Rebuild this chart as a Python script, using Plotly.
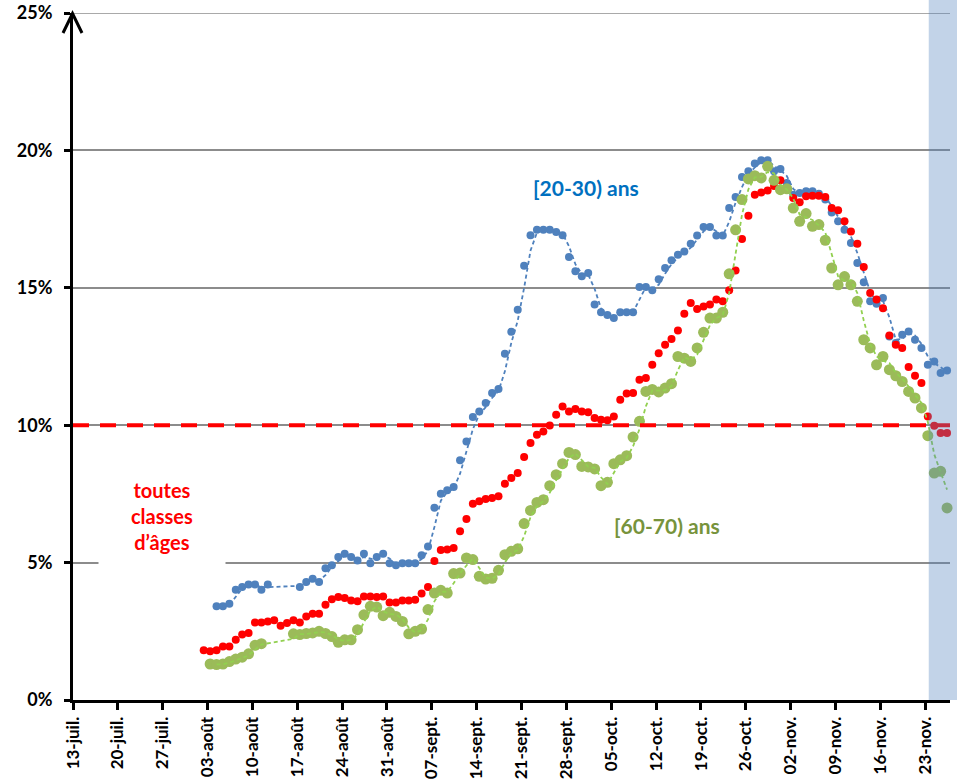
import pandas as pd
import plotly.graph_objects as go

# ---------------- data ----------------
AXIS_START = "2020-07-13"
tick_labels = ["13-juil.", "20-juil.", "27-juil.", "03-août", "10-août", "17-août",
               "24-août", "31-août", "07-sept.", "14-sept.", "21-sept.", "28-sept.",
               "05-oct.", "12-oct.", "19-oct.", "26-oct.", "02-nov.", "09-nov.",
               "16-nov.", "23-nov."]
y_ticks = [0, 5, 10, 15, 20, 25]
threshold = 10
shade_start = "2020-11-23 13:00"

blue_start = "2020-08-04"   # [20-30) ans
blue_vals = [3.41, 3.41, 3.50, 4.01, 4.11, 4.20, 4.20, 4.01, 4.20, None, None, None, None,
             4.11, 4.29, 4.41, 4.29, 4.79, 4.90, 5.20, 5.32, 5.20, 5.08, 5.32, 4.98, 5.20,
             5.32, 4.98, 4.90, 4.98, 4.98, 4.98, 5.27, 5.59, 7.00, 7.51, 7.63, 7.75, 8.72,
             9.41, 10.30, 10.50, 10.81, 11.17, 11.32, 12.60, 13.40, 14.20, 15.80, 16.91,
             17.11, 17.11, 17.11, 17.03, 16.91, 16.12, 15.60, 15.42, 15.54, 14.39, 14.11,
             14.01, 13.90, 14.11, 14.11, 14.11, 15.03, 15.03, 14.91, 15.31, 15.72, 16.00,
             16.20, 16.32, 16.60, 16.90, 17.21, 17.21, 16.90, 16.90, 17.90, 18.30, 19.03,
             19.24, 19.52, 19.64, 19.64, 19.24, 19.32, 18.81, 18.39, 18.45, 18.51, 18.51,
             18.42, 18.21, 17.74, 17.42, 17.11, 16.63, 15.90, 15.20, 14.51, 14.42, 14.63,
             13.23, 12.99, 13.29, 13.41, 13.11, 12.81, 12.20, 12.32, 11.90, 11.99]

red_start = "2020-08-02"    # toutes classes d'âges
red_vals = [1.81, 1.77, 1.81, 1.95, 1.95, 2.19, 2.38, 2.44, 2.82, 2.82, 2.86, 2.90, 2.70,
            2.80, 2.90, 2.82, 3.04, 3.14, 3.14, 3.47, 3.67, 3.75, 3.71, 3.62, 3.59, 3.77,
            3.77, 3.75, 3.77, 3.55, 3.55, 3.62, 3.62, 3.65, 3.88, 4.11, 5.06, 5.46, 5.48,
            5.53, 6.14, 6.59, 7.14, 7.23, 7.31, 7.35, 7.41, 7.87, 8.08, 8.26, 8.84, 9.35,
            9.65, 9.77, 9.99, 10.38, 10.68, 10.50, 10.59, 10.50, 10.47, 10.26, 10.20, 10.18,
            10.32, 10.93, 11.15, 11.17, 11.65, 11.72, 12.20, 12.62, 12.93, 13.14, 13.45,
            14.06, 14.45, 14.23, 14.32, 14.39, 14.57, 14.51, 14.91, 15.63, 16.78, 17.62,
            18.39, 18.47, 18.54, 18.70, 18.91, 18.60, 18.27, 18.11, 18.33, 18.35, 18.35,
            18.30, 17.90, 17.82, 17.42, 17.05, 16.60, 15.76, 14.81, 14.57, 14.26, 13.26,
            12.93, 12.81, 12.12, 11.80, 11.54, 10.32, 9.98, 9.72, 9.72]

green_start = "2020-08-03"  # [60-70) ans
green_vals = [1.31, 1.29, 1.31, 1.40, 1.49, 1.56, 1.68, 1.99, 2.05, None, None, None, None,
              2.41, 2.38, 2.42, 2.44, 2.50, 2.42, 2.31, 2.10, 2.19, 2.19, 2.56, 3.10, 3.41,
              3.38, 3.07, 3.19, 3.04, 2.86, 2.41, 2.50, 2.58, 3.29, 3.89, 3.99, 3.89, 4.60,
              4.62, 5.17, 5.11, 4.50, 4.40, 4.43, 4.72, 5.29, 5.41, 5.50, 6.42, 6.90, 7.19,
              7.29, 7.80, 8.20, 8.60, 9.01, 8.93, 8.50, 8.48, 8.41, 7.80, 7.92, 8.60, 8.74,
              8.89, 9.57, 10.14, 11.23, 11.30, 11.21, 11.35, 11.51, 12.50, 12.44, 12.32,
              12.81, 13.38, 13.90, 13.90, 14.11, 15.51, 17.11, 18.21, 18.96, 19.08, 19.00,
              19.42, 18.91, 18.57, 18.60, 17.90, 17.42, 17.70, 17.24, 17.30, 16.73, 15.72,
              15.11, 15.41, 15.11, 14.51, 13.11, 12.81, 12.20, 12.50, 12.02, 11.80, 11.59,
              11.23, 10.99, 10.63, 9.62, 8.26, 8.32, 6.99]

# ---------------- layout geometry ----------------
W, H = 957, 781
L, T = 73, 13
R = W - 950
B = H - 700
PW, PH = W - L - R, H - T - B
X_END_DAYS = 136.86
POINT_SHIFT = pd.Timedelta(hours=9.6)   # points sit between tick marks (Excel style)

base = pd.Timestamp(AXIS_START)


def dates(start, n):
    return pd.date_range(start, periods=n, freq="D") + POINT_SHIFT


def moving_avg2(xs, vs):
    pts = [(x, v) for x, v in zip(xs, vs) if v is not None]
    mx, mv = [], []
    for i in range(1, len(pts)):
        mx.append(pts[i][0])
        mv.append((pts[i][1] + pts[i - 1][1]) / 2)
    return mx, mv


def px(x):  # page pixel -> paper fraction
    return (x - L) / PW


def py(y):
    return (H - B - y) / PH


BLUE = "#4F81BD"
RED = "#FF0000"
GREEN = "#9BBB59"
GREEN_LINE = "#92D050"

bx = dates(blue_start, len(blue_vals))
rx = dates(red_start, len(red_vals))
gx = dates(green_start, len(green_vals))

fig = go.Figure()

bmx, bmv = moving_avg2(bx, blue_vals)
gmx, gmv = moving_avg2(gx, green_vals)

fig.add_trace(go.Scatter(x=bx, y=blue_vals, mode="markers", cliponaxis=False,
                         marker=dict(color=BLUE, size=8), showlegend=False))
fig.add_trace(go.Scatter(x=bmx, y=bmv, mode="lines", cliponaxis=False,
                         line=dict(color=BLUE, width=1.8, dash="4px,3px"), showlegend=False))
fig.add_trace(go.Scatter(x=rx, y=red_vals, mode="markers", cliponaxis=False,
                         marker=dict(color=RED, size=8), showlegend=False))
fig.add_trace(go.Scatter(x=gx, y=green_vals, mode="markers", cliponaxis=False,
                         marker=dict(color=GREEN, size=11), showlegend=False))
fig.add_trace(go.Scatter(x=gmx, y=gmv, mode="lines", cliponaxis=False,
                         line=dict(color=GREEN_LINE, width=1.8, dash="4px,3px"), showlegend=False))

tickvals = [base + pd.Timedelta(days=7 * i) for i in range(len(tick_labels))]

shade_x0 = (pd.Timestamp(shade_start) - base) / pd.Timedelta(days=X_END_DAYS)

shapes = [
    # 25% grid line (kept explicitly at the very top edge)
    dict(type="line", xref="paper", yref="y", x0=0, x1=1, y0=25, y1=25,
         line=dict(color="#8C8C8C", width=1.5), layer="below"),
    # 10% threshold line
    dict(type="line", xref="paper", yref="y", x0=0, x1=1, y0=threshold, y1=threshold,
         line=dict(color=RED, width=4, dash="16px,11px"), layer="above"),
    # shaded recent period
    dict(type="rect", xref="paper", yref="paper", x0=shade_x0, x1=px(W + 5),
         y0=0, y1=py(-2),
         fillcolor="rgba(79,129,189,0.35)", line=dict(width=0), layer="above"),
    # arrow head on the y axis
    dict(type="path", xref="paper", yref="paper",
         path=f"M {px(63)} {py(33)} L {px(72.5)} {py(13.5)} L {px(82)} {py(33)}",
         line=dict(color="black", width=3), layer="above"),
]

font_family = "Lato, 'Open Sans', sans-serif"

annotations = [
    dict(xref="paper", yref="paper", x=px(162), y=py(516),
         text="<b>toutes<br>classes<br>d’âges</b>", showarrow=False,
         font=dict(family=font_family, size=20, color=RED), align="center",
         bgcolor="white", width=124, height=104, xanchor="center", yanchor="middle"),
    dict(xref="paper", yref="paper", x=px(586), y=py(187),
         text="<b>[20-30) ans</b>", showarrow=False,
         font=dict(family=font_family, size=21, color="#0070C0"),
         xanchor="center", yanchor="middle"),
    dict(xref="paper", yref="paper", x=px(667), y=py(525),
         text="<b>[60-70) ans</b>", showarrow=False,
         font=dict(family=font_family, size=21, color="#77933C"),
         xanchor="center", yanchor="middle"),
]

fig.update_layout(
    width=W, height=H,
    margin=dict(l=L, r=R, t=T, b=B, pad=0, autoexpand=False),
    plot_bgcolor="white", paper_bgcolor="white",
    shapes=shapes, annotations=annotations,
    font=dict(family=font_family, color="black"),
    xaxis=dict(
        type="date", automargin=False, ticklabeloverflow="allow",
        range=[base, base + pd.Timedelta(days=X_END_DAYS)],
        tickvals=tickvals, ticktext=tick_labels, tickangle=-90,
        tickfont=dict(family=font_family, size=17, weight="bold", color="black"),
        showgrid=False, zeroline=False,
        showline=True, linecolor="black", linewidth=3,
        ticks="outside", ticklen=7, tickwidth=3, tickcolor="black",
    ),
    yaxis=dict(
        range=[0, 25], tickvals=y_ticks, ticktext=[f"{v}%" for v in y_ticks],
        automargin=False, ticklabeloverflow="allow",
        tickfont=dict(family=font_family, size=18, weight="bold", color="black"),
        showgrid=True, gridcolor="#8C8C8C", gridwidth=1.5, zeroline=False,
        showline=True, linecolor="black", linewidth=3,
        ticks="outside", ticklen=6, tickwidth=3, tickcolor="black",
        ticklabelstandoff=8,
    ),
)

fig.write_html("out.html",
               config={"displayModeBar": False},
               post_script="document.body.style.margin='0';document.body.style.overflow='hidden';")
